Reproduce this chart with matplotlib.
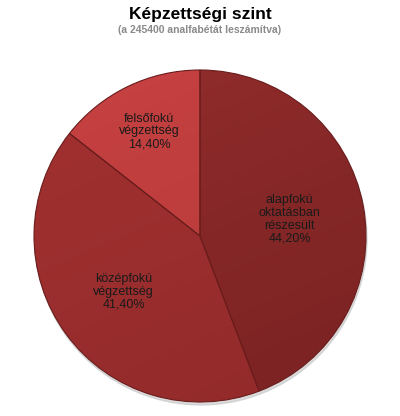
import matplotlib
matplotlib.use("Agg")
import matplotlib.pyplot as plt
import numpy as np

categories = ["alapfokú\noktatásban\nrészesült", "középfokú\nvégzettség", "felsőfokú\nvégzettség"]
values = [44.2, 41.4, 14.4]
pct_labels = ["44,20%", "41,40%", "14,40%"]
title = "Képzettségi szint"
subtitle = "(a 245400 analfabétát leszámítva)"

top_colors = ["#922C2C", "#A33131", "#C84242"]
bot_colors = ["#7A2222", "#922A2A", "#B23737"]
label_r = [0.55, 0.57, 0.70]

plt.rcParams['font.family'] = ['Liberation Sans', 'DejaVu Sans']
fig = plt.figure(figsize=(4.0, 4.16), dpi=100)
ax = fig.add_axes([(200 - 172) / 400, 1 - (236 + 172) / 416, 344 / 400, 344 / 416])

# shadow
shadow = plt.Circle((0.006, -0.018), 1.0, color='#c4c4c4', alpha=0.6, zorder=0)
ax.add_patch(shadow)

wedges, _ = ax.pie(values, startangle=90, counterclock=False, radius=1.0,
                   colors=top_colors, wedgeprops=dict(edgecolor='#6A1C1C', linewidth=0.8))
yy, xx = np.mgrid[-1:1:200j, -1:1:200j]
for w, c1, c2 in zip(wedges, top_colors, bot_colors):
    a = np.array(matplotlib.colors.to_rgb(c1))
    b = np.array(matplotlib.colors.to_rgb(c2))
    t = np.clip((1 - yy) / 2 * 0.7 + (xx + 1) / 2 * 0.3, 0, 1)
    img = a[None, None, :] * (1 - t[..., None]) + b[None, None, :] * t[..., None]
    im = ax.imshow(img, extent=(-1, 1, -1, 1), origin='lower', zorder=w.get_zorder() + 0.1)
    im.set_clip_path(w)
    w.set_facecolor('none')
    w.set_zorder(w.get_zorder() + 0.2)

for w, cat, pl, r in zip(wedges, categories, pct_labels, label_r):
    ang = np.deg2rad((w.theta1 + w.theta2) / 2)
    ax.text(r * np.cos(ang), r * np.sin(ang), cat + "\n" + pl, ha='center', va='center',
            fontsize=9, color='#1a1a1a', linespacing=1.08, zorder=5)

ax.set_xlim(-172 / 166, 172 / 166)
ax.set_ylim(-172 / 166, 172 / 166)
ax.set_aspect('equal')
ax.axis('off')

fig.text(0.5, 1 - 14 / 416, title, ha='center', va='center', fontsize=12.5, fontweight='bold', color='black')
fig.text(0.5, 1 - 30 / 416, subtitle, ha='center', va='center', fontsize=7.5, fontweight='bold', color='#8a8a8a')

fig.savefig('out.png', dpi=100, facecolor='white')
